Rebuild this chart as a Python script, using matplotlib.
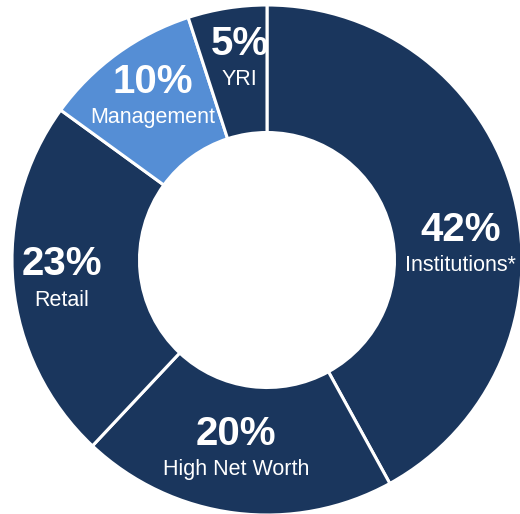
import numpy as np
import matplotlib.pyplot as plt

plt.rcParams['font.family'] = ['Liberation Sans', 'DejaVu Sans']

# Data (clockwise from 12 o'clock)
labels = ["Institutions*", "High Net Worth", "Retail", "Management", "YRI"]
shares = [42, 20, 23, 10, 5]
colors = ["#1a365d", "#1a365d", "#1a365d", "#558ed5", "#1a365d"]

# label placement: (angle shift in degrees, radius) per slice
label_nudge = [(-11.5, 0.76), (-1.8, 0.77), (1.4, 0.81), (0.0, 0.765), (-1.0, 0.775)]


def main():
    fig = plt.figure(figsize=(5.2, 5.14), dpi=100)
    ax = fig.add_axes([0, 0, 1, 1])

    wedges, _ = ax.pie(
        shares, colors=colors, startangle=90, counterclock=False,
        radius=1.0, wedgeprops=dict(width=0.5, edgecolor="white", linewidth=2.2),
    )

    # labels in the ring
    for w, lab, val, (da, r) in zip(wedges, labels, shares, label_nudge):
        ang = np.deg2rad((w.theta1 + w.theta2) / 2 + da)
        x, y = r * np.cos(ang), r * np.sin(ang)
        ax.text(x, y + 0.005, f"{val}%", ha="center", va="bottom",
                fontsize=29, fontweight="bold", color="white")
        ax.text(x, y - 0.02, lab, ha="center", va="top",
                fontsize=15.5, color="white")

    ax.set_xlim(-267 / 255, (520 - 267) / 255)
    ax.set_ylim(-254 / 255, 260 / 255)
    ax.set_aspect("auto")
    ax.axis("off")

    fig.savefig("out.png", dpi=100)
    plt.close(fig)


if __name__ == "__main__":
    main()
